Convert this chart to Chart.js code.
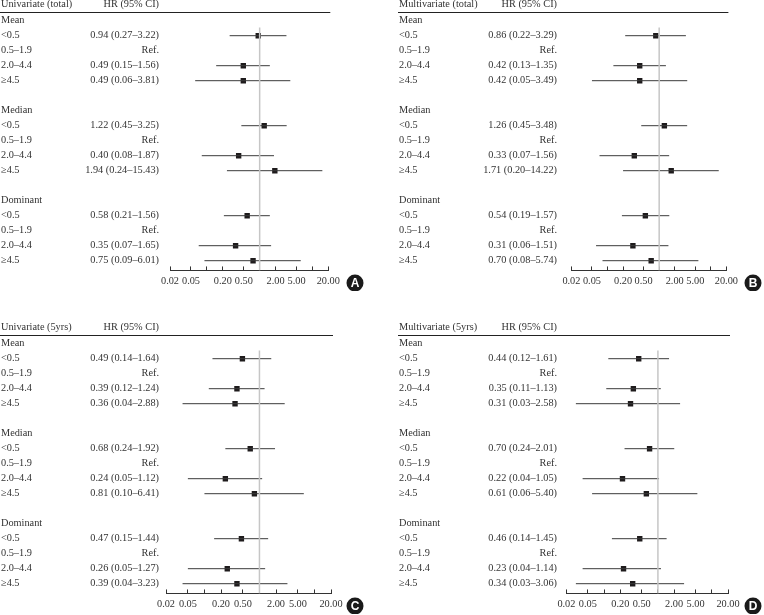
<!DOCTYPE html>
<html>
<head>
<meta charset="utf-8">
<script src="https://cdn.jsdelivr.net/npm/chart.js@4.4.0/dist/chart.umd.min.js"></script>
<style>
    html, body { margin: 0; padding: 0; background: #fff; overflow: hidden; }
    body { width: 764px; height: 615px; position: relative; }
    canvas { position: absolute; }
</style>
</head>
<body>
<canvas id="panelA" width="366" height="291" style="left:0px;top:0px"></canvas>
<canvas id="panelB" width="366" height="291" style="left:398px;top:0px"></canvas>
<canvas id="panelC" width="366" height="291" style="left:0px;top:323px"></canvas>
<canvas id="panelD" width="366" height="291" style="left:398px;top:323px"></canvas>
<script>
// Row structure
const groupNames = ['Mean', 'Median', 'Dominant'];
const categories = ['<0.5', '0.5–1.9', '2.0–4.4', '≥4.5'];

// x axis ticks (log scale)
const tickValues = [0.02, 0.05, 0.1, 0.2, 0.5, 1, 2, 5, 10, 20];
const tickLabelValues = [0.02, 0.05, 0.2, 0.5, 2, 5, 20];

// A - Univariate (total)
const hrA   = [0.94, null, 0.49, 0.49, 1.22, null, 0.40, 1.94, 0.58, null, 0.35, 0.75];
const lowA  = [0.27, null, 0.15, 0.06, 0.45, null, 0.08, 0.24, 0.21, null, 0.07, 0.09];
const highA = [3.22, null, 1.56, 3.81, 3.25, null, 1.87, 15.43, 1.56, null, 1.65, 6.01];

// B - Multivariate (total)
const hrB   = [0.86, null, 0.42, 0.42, 1.26, null, 0.33, 1.71, 0.54, null, 0.31, 0.70];
const lowB  = [0.22, null, 0.13, 0.05, 0.45, null, 0.07, 0.20, 0.19, null, 0.06, 0.08];
const highB = [3.29, null, 1.35, 3.49, 3.48, null, 1.56, 14.22, 1.57, null, 1.51, 5.74];

// C - Univariate (5yrs)
const hrC   = [0.49, null, 0.39, 0.36, 0.68, null, 0.24, 0.81, 0.47, null, 0.26, 0.39];
const lowC  = [0.14, null, 0.12, 0.04, 0.24, null, 0.05, 0.10, 0.15, null, 0.05, 0.04];
const highC = [1.64, null, 1.24, 2.88, 1.92, null, 1.12, 6.41, 1.44, null, 1.27, 3.23];

// D - Multivariate (5yrs)
const hrD   = [0.44, null, 0.35, 0.31, 0.70, null, 0.22, 0.61, 0.46, null, 0.23, 0.34];
const lowD  = [0.12, null, 0.11, 0.03, 0.24, null, 0.04, 0.06, 0.14, null, 0.04, 0.03];
const highD = [1.61, null, 1.13, 2.58, 2.01, null, 1.05, 5.40, 1.45, null, 1.14, 3.06];

const FONT_FAMILY = "'Liberation Serif', 'Times New Roman', serif";
const FONT_SIZE = 10.3;
const TEXT_COLOR = '#333';

// row index on the y scale for data item i
function rowOf(i) {
    const g = Math.floor(i / categories.length);
    const c = i % categories.length;
    return g * (categories.length + 2) + 1 + c;
}

function fmt(v) {
    return v.toFixed(2);
}

function makePanel(canvasId, title, hr, low, high, badge, plotLeft, plotRight) {
    const canvas = document.getElementById(canvasId);
    const W = canvas.width, H = canvas.height;

    const ciData = [];
    const hrData = [];
    hr.forEach((v, i) => {
        if (v === null) return;
        const r = rowOf(i);
        ciData.push({x: low[i], y: r}, {x: high[i], y: r}, {x: 1, y: null});
        hrData.push({x: v, y: r});
    });

    // Left text columns, header and panel badge
    const panelText = {
        id: 'panelText',
        afterDraw(chart) {
            const ctx = chart.ctx;
            const ys = chart.scales.y;
            const textLeft = 1, valueRight = 159;
            ctx.save();
            ctx.font = FONT_SIZE + 'px ' + FONT_FAMILY;
            ctx.fillStyle = TEXT_COLOR;
            ctx.textBaseline = 'middle';

            // header
            const hy = ys.getPixelForValue(-1.07);
            ctx.textAlign = 'left';
            ctx.fillText(title, textLeft, hy);
            ctx.textAlign = 'right';
            ctx.fillText('HR (95% CI)', valueRight, hy);
            const ly = Math.round(ys.getPixelForValue(-0.6)) + 0.5;
            ctx.strokeStyle = '#222';
            ctx.lineWidth = 1;
            ctx.beginPath();
            ctx.moveTo(0, ly);
            ctx.lineTo(plotRight + 2, ly);
            ctx.stroke();

            // rows
            groupNames.forEach((g, gi) => {
                ctx.textAlign = 'left';
                ctx.fillText(g, textLeft, ys.getPixelForValue(gi * (categories.length + 2)));
            });
            hr.forEach((v, i) => {
                const y = ys.getPixelForValue(rowOf(i));
                ctx.textAlign = 'left';
                ctx.fillText(categories[i % categories.length], textLeft, y);
                ctx.textAlign = 'right';
                const s = v === null ? 'Ref.' : fmt(v) + ' (' + fmt(low[i]) + '–' + fmt(high[i]) + ')';
                ctx.fillText(s, valueRight, y);
            });

            // badge
            const bx = 355, by = 283;
            ctx.fillStyle = '#1a1a1a';
            ctx.beginPath();
            ctx.arc(bx, by, 8.5, 0, Math.PI * 2);
            ctx.fill();
            ctx.fillStyle = '#fff';
            ctx.font = "bold 12px 'Liberation Sans', Arial, sans-serif";
            ctx.textAlign = 'center';
            ctx.fillText(badge, bx, by + 0.5);
            ctx.restore();
        }
    };

    const yMin = -0.5, yMax = 16.65;
    const rowH = 15;
    const top = 20.7 - (0 - yMin) * rowH;
    const areaBottom = 20.7 + yMax * rowH;
    const axisH = 20;

    return new Chart(canvas, {
        type: 'scatter',
        data: {
            datasets: [
                {
                    data: [{x: 1, y: 0.45}, {x: 1, y: yMax}],
                    showLine: true,
                    borderColor: '#c6c6c6',
                    borderWidth: 1.5,
                    pointRadius: 0
                },
                {
                    data: ciData,
                    showLine: true,
                    spanGaps: false,
                    borderColor: '#3a3a3a',
                    borderWidth: 1,
                    pointRadius: 0
                },
                {
                    data: hrData,
                    pointStyle: 'rect',
                    pointRadius: 3.8,
                    backgroundColor: '#1e1b1c',
                    borderWidth: 0
                }
            ]
        },
        options: {
            responsive: false,
            animation: false,
            events: [],
            layout: {
                padding: {left: plotLeft, right: W - plotRight, top: top, bottom: H - axisH - areaBottom}
            },
            plugins: {
                legend: {display: false},
                tooltip: {enabled: false}
            },
            scales: {
                x: {
                    type: 'logarithmic',
                    position: 'bottom',
                    min: 0.02,
                    max: 20,
                    afterBuildTicks: (scale) => {
                        scale.ticks = tickValues.map(v => ({value: v}));
                    },
                    afterFit: (scale) => {
                        scale.height = axisH;
                    },
                    grid: {
                        drawOnChartArea: false,
                        drawTicks: true,
                        tickLength: -4,
                        color: '#333',
                        lineWidth: 1
                    },
                    border: {display: true, color: '#333', width: 1},
                    ticks: {
                        autoSkip: false,
                        maxRotation: 0,
                        minRotation: 0,
                        padding: 9,
                        color: TEXT_COLOR,
                        font: {family: FONT_FAMILY, size: FONT_SIZE},
                        callback: (v) => tickLabelValues.includes(v) ? fmt(v) : ''
                    }
                },
                y: {
                    type: 'linear',
                    display: false,
                    reverse: true,
                    min: yMin,
                    max: yMax
                }
            }
        },
        plugins: [panelText]
    });
}

makePanel('panelA', 'Univariate (total)', hrA, lowA, highA, 'A', 170, 328.3);
makePanel('panelB', 'Multivariate (total)', hrB, lowB, highB, 'B', 173.4, 328.4);
makePanel('panelC', 'Univariate (5yrs)', hrC, lowC, highC, 'C', 166, 331);
makePanel('panelD', 'Multivariate (5yrs)', hrD, lowD, highD, 'D', 168.4, 330);
</script>
</body>
</html>
